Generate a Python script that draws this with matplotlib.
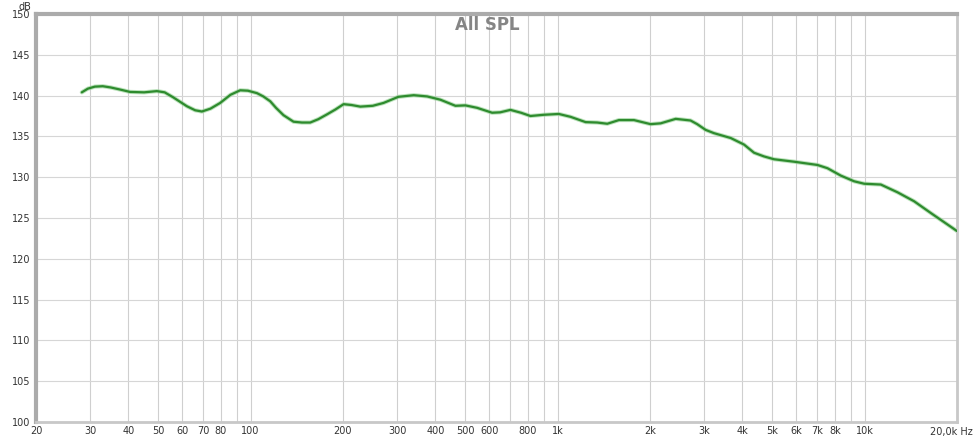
import numpy as np
import matplotlib
matplotlib.use('Agg')
import matplotlib.pyplot as plt

# frequency response (Hz, dB)
freq_hz = [28.2, 29.5, 31.1, 33, 35, 37.5, 40.5, 45, 49.5, 52.5, 55.9, 62, 66, 69.4, 74, 79.6,
           86, 92.5, 98, 104.9, 110, 115.9, 121, 128, 138, 147, 156.4, 166, 177.4, 189, 200.9,
           213, 227.7, 250, 271, 303, 340, 375.8, 415, 464.8, 501, 547, 612, 650, 702, 760, 816,
           902, 1009, 1102, 1234, 1346, 1452, 1584, 1773, 2009, 2166, 2425, 2711, 2850, 3035,
           3230, 3664, 4048, 4364, 4700, 5070, 5888, 7022, 7572, 8362, 9244, 9970, 11294,
           12800, 14500, 16450, 18630, 20000]
spl_db = [140.4, 140.85, 141.1, 141.15, 141.0, 140.75, 140.45, 140.4, 140.55, 140.4, 139.8,
          138.7, 138.2, 138.05, 138.4, 139.1, 140.1, 140.65, 140.6, 140.3, 139.9, 139.3, 138.5,
          137.6, 136.8, 136.7, 136.7, 137.1, 137.7, 138.3, 138.95, 138.85, 138.65, 138.75, 139.1,
          139.85, 140.05, 139.9, 139.5, 138.75, 138.8, 138.5, 137.9, 137.95, 138.25, 137.9, 137.5,
          137.65, 137.75, 137.4, 136.75, 136.7, 136.55, 137.0, 137.0, 136.5, 136.6, 137.15, 136.95,
          136.5, 135.8, 135.4, 134.8, 134.0, 133.0, 132.55, 132.2, 131.9, 131.5, 131.1, 130.2,
          129.5, 129.2, 129.1, 128.15, 127.05, 125.6, 124.2, 123.4]

x_ticks = [20, 30, 40, 50, 60, 70, 80, 100, 200, 300, 400, 500, 600, 800,
           1000, 2000, 3000, 4000, 5000, 6000, 7000, 8000, 10000]
x_labels = ['20', '30', '40', '50', '60', '70', '80', '100', '200', '300', '400', '500', '600',
            '800', '1k', '2k', '3k', '4k', '5k', '6k', '7k', '8k', '10k']
y_ticks = list(range(100, 151, 5))

fig = plt.figure(figsize=(9.75, 4.42), dpi=100)
ax = fig.add_axes([36 / 975, 20 / 442, 921 / 975, 408 / 442])

ax.set_xscale('log')
ax.set_xlim(20, 20000)
ax.set_ylim(100, 150)

# grid: every 1-2-3...9 per decade, every 5 dB
grid_x = [m * 10 ** d for d in range(1, 5) for m in range(1, 10)]
for gx in grid_x:
    if 20 < gx < 20000:
        ax.axvline(gx, color='#cfcfcf', lw=0.8, zorder=0)
for gy in y_ticks[1:-1]:
    ax.axhline(gy, color='#d6d6d6', lw=0.8, zorder=0)

ax.plot(freq_hz, spl_db, color='#8fd08f', lw=3.0, alpha=0.6, solid_capstyle='round', zorder=2)
ax.plot(freq_hz, spl_db, color='#2e8b2e', lw=1.6, solid_capstyle='round', zorder=3)

ax.xaxis.set_minor_locator(matplotlib.ticker.NullLocator())
ax.set_xticks(x_ticks)
ax.set_xticklabels(x_labels)
ax.set_yticks(y_ticks)
ax.tick_params(axis='both', length=0, labelsize=7, colors='#333333')
ax.tick_params(axis='x', pad=3)
ax.tick_params(axis='y', pad=4)

ax.annotate('20,0k Hz', xy=(1.0175, -0.024), xycoords='axes fraction', ha='right', va='center',
            fontsize=7, color='#333333')
ax.annotate('dB', xy=(-0.012, 1.018), xycoords='axes fraction', ha='center', va='center',
            fontsize=7, color='#333333')

# shaded frame: darker top/left, lighter bottom/right
for name in ['left', 'top']:
    ax.spines[name].set_color('#ababab')
    ax.spines[name].set_linewidth(3)
for name in ['right', 'bottom']:
    ax.spines[name].set_color('#c8c8c8')
    ax.spines[name].set_linewidth(2)

ax.text(0.490, 0.973, 'All SPL', transform=ax.transAxes, ha='center', va='center',
        fontsize=12, fontweight='bold', color='#858585')

fig.savefig('out.png', dpi=100)
